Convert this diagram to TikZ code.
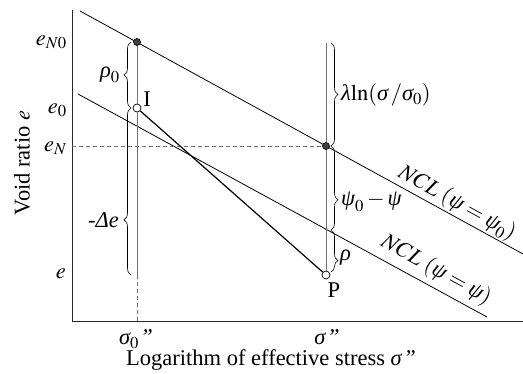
\documentclass[tikz,border=0pt]{standalone}
\usepackage{mathptmx}
\usepackage{fontspec}
\setmainfont{Liberation Serif}
\usetikzlibrary{decorations.pathreplacing}
\newcommand\gi[1]{\mbox{\itshape #1}}
\newcommand\dpr{\mbox{\itshape\kern1.5pt"}}
\begin{document}
\begin{tikzpicture}[x=1pt,y=-1pt,
  font=\fontsize{22.5}{26}\selectfont,
  axis/.style={line width=0.9pt, black!85},
  ncl/.style={line width=0.8pt, black},
  vline/.style={line width=0.8pt, black!55},
  dline/.style={line width=0.8pt, black!55, dashed, dash pattern=on 4pt off 3pt},
  path/.style={line width=1.2pt, black},
  brc/.style={decorate, decoration={brace, amplitude=7pt, aspect=#1}, line width=0.6pt},
  brc/.default=0.5,
  fdot/.style={circle, fill=black!75, draw=black, inner sep=0pt, minimum size=7pt},
  odot/.style={circle, fill=white, draw=black, line width=0.7pt, inner sep=0pt, minimum size=8pt},
  lbl/.style={inner sep=1pt}]
\useasboundingbox (0,0) rectangle (523,373);
% coordinates
\coordinate (Ytop) at (72,10);
\coordinate (O) at (72,321);
\coordinate (Xend) at (523,321);
\coordinate (U1) at (80,11);
\coordinate (U2) at (523,254);
\coordinate (L1) at (78,94);
\coordinate (L2) at (487,317);
\coordinate (S0e) at (137,275);
\coordinate (S0) at (137,321);
\coordinate (Stop) at (326,43);
\coordinate (ENax) at (72,146);
% points
\node[fdot] (EN0) at (137,42) {};
\node[fdot] (EN) at (326,146) {};
\node[odot] (I) at (137,108) {};
\node[odot] (P) at (326,275) {};
% axes
\draw[axis] (Ytop) -- (O) -- (Xend);
% NCLs
\draw[ncl] (U1) -- (U2);
\draw[ncl] (L1) -- (L2);
% verticals
\draw[vline] (EN0) -- (I);
\draw[vline] (I) -- (S0e);
\draw[dline] (S0e) -- (S0);
\draw[vline] (Stop) -- (EN) -- (P);
\draw[dline] (ENax) -- (EN);
% path I -> P
\draw[path] (I) -- (P);
% redraw dots on top
\node[fdot] at (EN0) {};
\node[fdot] at (EN) {};
% braces
\draw[brc] (131,108) -- (131,42);
\draw[brc=0.33] (131,275) -- (131,108);
\draw[brc] (331,43) -- (331,146);
\draw[brc=0.64] (331,146) -- (331,230);
\draw[brc=0.73] (331,230) -- (331,272);
% labels
\node[lbl, anchor=east] (lrho0) at (121,75) {$\gi{ρ}_0$};
\node[lbl, anchor=east] (lde) at (120,220) {-\gi{Δe}};
\node[lbl, anchor=west] (llam) at (340,95) {$\gi{λ}\mathrm{ln}(\gi{σ}\,/\gi{σ}_0)$};
\node[lbl, anchor=west] (lpsi) at (340,202) {$\gi{ψ}_0-\gi{ψ}$};
\node[lbl, anchor=west] (lrho) at (339,258) {$\gi{ρ}$};
\node[lbl] (lI) at (147,99) {I};
\node[lbl] (lP) at (334,290) {P};
\node[lbl, anchor=east] (eN0) at (68,42) {$e_{N0}$};
\node[lbl, anchor=east] (e0) at (68,110) {$e_0$};
\node[lbl, anchor=east] (eN) at (68,148) {$e_N$};
\node[lbl, anchor=east] (ee) at (67,274) {$e$};
\node[lbl, rotate=90] (ylab) at (22,163) {Void ratio $e$};
\node[lbl] (s0) at (136,339) {$\gi{σ}_0$\dpr};
\node[lbl] (s) at (327,337) {\gi{σ}\dpr};
\node[lbl] (xlab) at (271,360) {Logarithm of effective stress \gi{σ}\dpr};
\node[lbl, rotate=-28.8] (ncl1) at (457,203) {$NCL\ (\gi{ψ}=\gi{ψ}_0)$};
\node[lbl, rotate=-28.8] (ncl2) at (436,270) {$NCL\ (\gi{ψ}=\gi{ψ})$};
\end{tikzpicture}
\end{document}
